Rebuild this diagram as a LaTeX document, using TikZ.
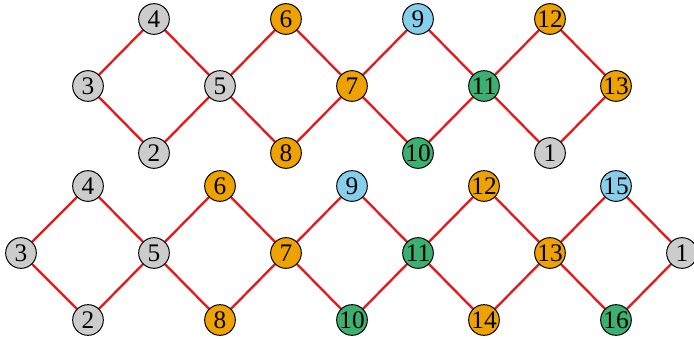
\documentclass[tikz,border=0pt]{standalone}
\usepackage{fontspec}
\setmainfont{Liberation Serif}
\usepackage{tikz}
\usetikzlibrary{backgrounds}
\definecolor{lnred}{RGB}{232,22,24}
\definecolor{vgray}{RGB}{204,204,204}
\definecolor{vorange}{RGB}{238,162,0}
\definecolor{vblue}{RGB}{135,206,235}
\definecolor{vgreen}{RGB}{60,176,110}

\begin{document}
\begin{tikzpicture}[x=0.75pt, y=-0.75pt,
    vtx/.style={circle, draw=black, line width=0.75pt, minimum size=23pt, inner sep=0pt,
      font=\fontsize{19}{19}\selectfont},
    vg/.style={vtx, fill=vgray},
    vo/.style={vtx, fill=vorange},
    vb/.style={vtx, fill=vblue},
    vn/.style={vtx, fill=vgreen},
    link/.style={lnred, line width=1.7pt}]
    \useasboundingbox (0,0) rectangle (694,339);
    % Upper chain
    \node[vg] (t3) at (88,86) {3};
    \node[vg] (t4) at (154,19) {4};
    \node[vg] (t2) at (154,153) {2};
    \node[vg] (t5) at (220,86) {5};
    \node[vo] (t6) at (286,19) {6};
    \node[vo] (t8) at (286,153) {8};
    \node[vo] (t7) at (352,86) {7};
    \node[vb] (t9) at (418,19) {9};
    \node[vn] (t10) at (418,153) {10};
    \node[vn] (t11) at (484,86) {11};
    \node[vo] (t12) at (550,19) {12};
    \node[vg] (t1) at (550,153) {1};
    \node[vo] (t13) at (616,86) {13};
    % Lower chain
    \node[vg] (b3) at (21,253) {3};
    \node[vg] (b4) at (88,186) {4};
    \node[vg] (b2) at (88,320) {2};
    \node[vg] (b5) at (154,253) {5};
    \node[vo] (b6) at (220,186) {6};
    \node[vo] (b8) at (220,320) {8};
    \node[vo] (b7) at (286,253) {7};
    \node[vb] (b9) at (352,186) {9};
    \node[vn] (b10) at (352,320) {10};
    \node[vn] (b11) at (418,253) {11};
    \node[vo] (b12) at (484,186) {12};
    \node[vo] (b14) at (484,320) {14};
    \node[vo] (b13) at (550,253) {13};
    \node[vb] (b15) at (616,186) {15};
    \node[vn] (b16) at (616,320) {16};
    \node[vg] (b1) at (682,253) {1};
    % Edges
    \begin{scope}[on background layer]
      \foreach \a/\b in {3/4, 3/2, 4/5, 2/5, 5/6, 5/8, 6/7, 8/7, 7/9, 7/10, 9/11, 10/11,
                         11/12, 11/1, 12/13, 1/13}
        \draw[link] (t\a) -- (t\b);
      \foreach \a/\b in {3/4, 3/2, 4/5, 2/5, 5/6, 5/8, 6/7, 8/7, 7/9, 7/10, 9/11, 10/11,
                         11/12, 11/14, 12/13, 14/13, 13/15, 13/16, 15/1, 16/1}
        \draw[link] (b\a) -- (b\b);
    \end{scope}
\end{tikzpicture}
\end{document}
